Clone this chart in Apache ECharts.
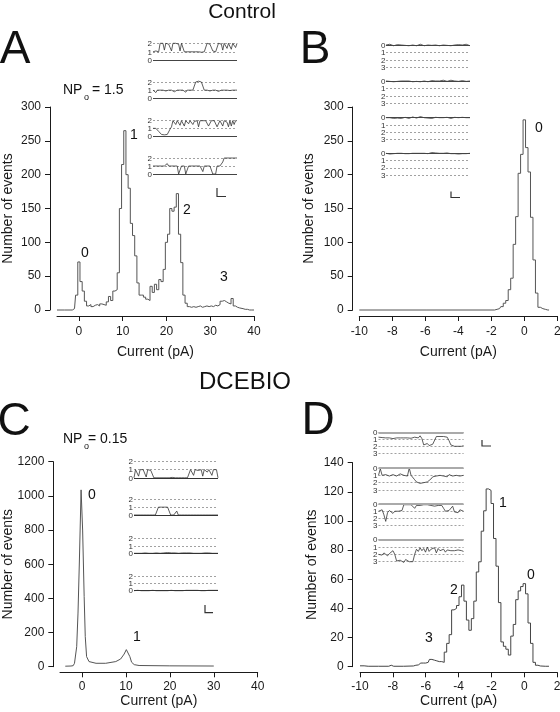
<!DOCTYPE html>
<html><head><meta charset="utf-8">
<script src="https://cdn.jsdelivr.net/npm/echarts@6/dist/echarts.min.js"></script>
<style>html,body{margin:0;padding:0;background:#fff}#c{width:560px;height:712px}</style>
</head><body><div id="c"></div>
<script>
// ---------- DATA ----------
// Panel A (Control) histogram: [current pA (bin centre), number of events]
const histA = [[-5,0],[-1.5,0],[-1,2],[-0.5,22],[0,71],[0.5,42],[1,28],[1.5,13],[2,6],[2.5,8],[3,5],[3.5,7],[4,8],[4.5,6],[5,9],[5.5,8],[6,7],[6.5,12],[7,20],[7.5,14],[8,28],[8.5,30],[9,55],[9.5,150],[10,215],[10.5,265],[11,200],[11.5,180],[12,128],[12.5,110],[13,80],[13.5,40],[14,22],[14.5,22],[15,19],[15.5,16],[16,14],[16.5,35],[17,26],[17.5,38],[18,30],[18.5,45],[19,42],[19.5,60],[20,100],[20.5,112],[21,150],[21.5,146],[22,152],[22.5,172],[23,112],[23.5,70],[24,22],[24.5,10],[25,5],[25.5,4],[26,5],[26.5,4],[27,5],[27.5,6],[28,4],[28.5,5],[29,6],[29.5,5],[30,6],[30.5,5],[31,7],[31.5,6],[32,8],[32.5,13],[33,14],[33.5,12],[34,10],[34.5,9],[35,17],[35.5,6],[36,4],[36.5,3],[37,2],[38,1],[39,0],[40,0]];
// Panel B (Control) histogram
const histB = [[-10,0],[-1.8,0],[-1.65,1],[-1.5,2],[-1.35,5],[-1.2,10],[-1.05,14],[-0.9,30],[-0.75,47],[-0.6,97],[-0.45,138],[-0.3,202],[-0.15,230],[0,281],[0.15,240],[0.3,204],[0.45,137],[0.6,74],[0.75,25],[0.9,4],[1.05,2],[1.2,1],[1.35,0],[1.5,0]];
// Panel C (DCEBIO) histogram
const histC = [[-3.8,3],[-2.5,4],[-2,6],[-1.7,20],[-1.2,117],[-0.9,314],[-0.6,607],[-0.2,1035],[0.15,800],[0.5,410],[0.75,176],[1.05,59],[1.6,30],[3.2,20],[5.4,20],[7.7,30],[8.8,45],[9.6,74],[10.1,100],[10.3,95],[10.9,59],[11.3,26],[11.9,12],[13,7],[20,5],[30,4]];
// Panel D (DCEBIO) histogram
const histD = [[-10,0.6],[-9.5,0.3],[-8.25,0.3],[-8.1,1],[-7.95,0.3],[-6.75,0.5],[-6.6,1],[-6.45,1.2],[-6.3,2.5],[-6.15,2.5],[-6,2.5],[-5.85,3],[-5.7,5],[-5.55,4.5],[-5.4,4],[-5.25,3.5],[-5.1,3.5],[-4.95,3],[-4.8,10],[-4.65,16],[-4.5,22],[-4.35,39],[-4.2,40],[-4.05,42],[-3.9,48],[-3.75,56],[-3.6,45],[-3.45,32],[-3.3,25],[-3.15,33],[-3,45],[-2.85,65],[-2.7,72],[-2.55,93],[-2.4,107],[-2.25,122],[-2.1,121],[-1.95,112],[-1.8,88],[-1.65,69],[-1.5,44],[-1.35,17],[-1.2,14],[-1.05,12],[-0.9,8],[-0.75,21],[-0.6,29],[-0.45,46],[-0.3,52],[-0.15,55],[0,57],[0.15,50],[0.3,30],[0.45,16],[0.6,3],[0.75,1],[0.9,0.5],[1.05,0.3],[1.5,0.3]];

// Tick labels
const ticksAC = [0,10,20,30,40];
const levelLabels = ['0','1','2','3'];
const peakLabelsA = ['0','1','2','3'];
const peakLabelsB = ['0'];
const peakLabelsC = ['0','1'];
const peakLabelsD = ['1','0','2','3'];

// Inset single-channel traces (open-channel level units)
const traceA1 = [1,1,1.1,1,1,2,1.9,2,1.2,2,2,1.9,2,1.1,2,2,2,2,1.9,1.1,2,2,1,1,1,1,1,1.1,1,1,1,1,1,1,0.95,1,1,1,2,2,1.9,2,1.1,1,1,1,2,2,1.9,1.2,2,2,1.4,2,1.9,1.3,2,2,1.5,2];
const traceA2 = [1,1,0.7,1,1,1,1,1,1,0.9,1,1,1,1,1,0.8,1,1,1,1,1,1,1,0.75,1,1,1,1,1,1,2,2,2.1,2,2,1.9,1,1,1,1,0.9,1,1,1,1,1,0.85,1,1,1,1,1,1,1,0.95,1,1,1,1,1];
const traceA3 = [1,1,1,1,0.6,0.5,0.2,0.2,0.15,0.2,0.2,0.2,0.9,1.2,2,2,1.5,2,2,1.4,2,1.9,1.3,2,2,1.6,2,2,1.5,1.9,2,2,1.2,2,2,2,1.8,2,2,1.3,1.3,2,2,2,2,1.2,1.4,2,2,1.3,2,2,1.8,1.2,2,1.3,2,1.5,2,2];
const traceA4 = [1,1,1,1.1,1,0.9,1,1,1,1,1.3,1,1,1,1,1,1,1,0,0,1,1,1,0,0,1,1,1,1,1,0.9,1,1,1,1,0.3,1,1,1,1,1,1,0,0,0,1,1,1,1,1.5,2,2,2,1.9,2,2,2,1.9,2,2];
const traceB1 = [0,0.1,-0.1,0,0.1,0,-0.05,0.1,0,-0.1,0.05,0,0.1,-0.05,0,0,0.1,0,-0.1,0.05,0.1,0,0,-0.1,0.05,0.1,0,0,0.1,-0.05,0,0.1,0.05,0,0.1,0.15,0,0.05,-0.05,0.1,0,0.05,-0.1,0,0.1];
const traceB2 = [0,-0.05,0.05,0,0.1,0,0.05,-0.05,0,0.1,0,0.05,0,-0.05,0.1,0,0.05,0,0.1,-0.05,0,0.05,0.1,0,-0.05,0.05,0,0.1,0,0.05,-0.1,0,0.05,0,-0.1,-0.15,0,-0.1,0.05,0,-0.05,0,0.05,0,0];
const traceB3 = [0,0.1,0,-0.1,0.1,0,0.05,-0.1,0.1,0,-0.05,0.05,0.1,0,-0.1,0,0.05,0,-0.15,-0.1,0,-0.1,0.05,0,0.1,0,-0.05,0.05,0,0.1,0,0.05,-0.05,0,0.1,0,-0.05,0.1,0,0.05,-0.05,0.1,0,0.05,0];
const traceB4 = [0,0.05,0.1,0,0.05,0.1,0,0.05,0,0.1,0.05,0,0.05,0.1,0,0.05,0,-0.05,0,0.05,0,-0.05,0.05,0,-0.1,0,-0.05,-0.1,0,-0.05,0,0.05,-0.05,0,0.05,0,0.05,0,0.1,0,0.05,0,0.05,0,0];
const traceC1 = [0,1,1,0.2,1,0.8,1,1,0.1,1,1,0.9,1,0,0,0,0,0,0,0,0,0,0,0,0,0.05,0,0,0,0,0,0,0,0,0,0,0,1,1,0.3,1,1,0.9,1,1,0.2,1,1,0.7,1,1,0.3,1,1,1,0];
const traceC2 = [0,0,0,0,0,0,0,0,0,0,0,0,0,0,0,0,1,1,1,0.85,1,0.9,1,1,0,0,0,0,0.5,0,0,0,0,0,0,0,0,0,0,0,0,0,0,0,0,0,0,0,0.1,0,0,0,0,0,0,0];
const traceC3 = [0,0.05,0,0.05,0,0,0.05,0,0,0.05,0,0,0.05,0,0,0,0.05,0,0.1,0,0.05,0,0.05,0.05,0,0.05,0.05,0,0.05,0,0.05,0,0,0.05,0,0.05,0,0,0.05,0,0.05,0,0,0.05,0,0];
const traceC4 = [0,0,0.05,0,0,0.05,0,0.05,0,0,0.05,0,0,0.05,0,0.05,0,0.05,0,0,0.05,0.05,0,0.05,0,0.05,0,0.05,0.05,0,0.05,0,0.05,0,0.05,0.05,0,0.05,0,0.05,0.05,0,0.05,0,0.05,0.05];
const traceD1 = [0.7,0.8,0.75,0.85,0.8,0.7,0.8,0.8,0.9,0.75,0.8,0.85,0.8,0.7,0.8,0.9,0.8,0.75,0.85,0.8,0.7,0.6,0.8,0.5,0.9,1.8,2,1.6,1.9,2.1,1.7,1.9,0.6,0.55,0.6,0.7,0.6,0.8,0.7,1.2,1.8,1.9,2,1.8,2,1.9,2,1.9];
const traceD2 = [1,0.1,1,1.1,0.9,1,1.1,1,0.9,1,1.1,1,0.8,1,1,0.9,1.1,0,1,1.2,1.6,1.9,2,2.1,1.9,2,2.2,1.9,2.1,1.5,1.2,1,1.1,0.9,1,0.8,1.1,1,1.2,0.9,1,1.1,1.3,1,0.9,1.1,1,1];
const traceD3 = [1,1.1,0.8,1.5,2.4,1.2,0.9,1,1.3,1,1.2,1,1.1,0.9,0.1,0.2,0.1,0.15,0.1,0.2,0.6,0.2,0.1,0.2,0.15,0.1,0.2,0.1,0.15,0.2,0.1,0.3,0.1,0.2,0.1,0.2,0.6,1,1.2,0.9,1.1,0.3,1.1,1,1.2,0.8,1,1];
const traceD4 = [2,1.9,2.1,1.8,2,2.2,1.9,2.1,1.5,2,2.9,3,2.8,2.9,3.1,2.7,2.9,3,2.8,3,2,1.3,1.6,1.1,1.5,1.2,1.7,1,1.6,1.3,1.5,1.1,1.8,1.2,1.5,1.6,1.3,1.7,1.4,1.6,1.5,1.7,1.5,1.6,1.4,1.6,1.5,1.6];

// ---------- LAYOUT / STYLE ----------
const FONT = '"Liberation Sans", Arial, Helvetica, sans-serif';
const AX = '#1a1a1a';
const grids = [], xAxes = [], yAxes = [], series = [], graphics = [];
const plain = v => String(v);

function txt(t, x, y, s, align, color) {
  return {type: 'text', silent: true, style: {text: t, x: x, y: y, fontSize: s, fill: color || '#111', fontFamily: FONT,
    textAlign: align || 'center', textVerticalAlign: 'middle'}};
}

function addHist(c, data) {
  const gi = grids.length;
  grids.push({left: c.left, top: c.top, width: c.width, height: c.height, containLabel: false, outerBoundsMode: 'none'});
  const xa = {gridIndex: gi, type: 'value', min: c.xmin, max: c.xmax, offset: c.xoff,
    name: 'Current (pA)', nameLocation: 'middle', nameGap: c.xNameGap, nameMoveOverlap: false,
    nameTextStyle: {fontSize: 14, color: AX, fontFamily: FONT},
    axisLine: {show: true, onZero: false, lineStyle: {color: AX, width: 1}},
    axisTick: {show: true, length: 5, lineStyle: {color: AX, width: 1}},
    axisLabel: {show: true, fontSize: 12, color: AX, margin: c.xLabMargin, fontFamily: FONT, formatter: plain,
      showMinLabel: true, showMaxLabel: true},
    splitLine: {show: false}};
  if (c.xticks) { xa.axisTick.customValues = c.xticks; xa.axisLabel.customValues = c.xticks; }
  else { xa.interval = c.xint; }
  xAxes.push(xa);
  yAxes.push({gridIndex: gi, type: 'value', min: 0, max: c.ymax, interval: c.yint, offset: c.yoff,
    name: 'Number of events', nameLocation: 'middle', nameGap: c.yNameGap, nameMoveOverlap: false,
    nameTextStyle: {fontSize: 14, color: AX, fontFamily: FONT},
    axisLine: {show: true, onZero: false, lineStyle: {color: AX, width: 1}},
    axisTick: {show: true, length: 5, lineStyle: {color: AX, width: 1}},
    axisLabel: {show: true, fontSize: 12, color: AX, margin: 9, fontFamily: FONT, formatter: plain,
      showMinLabel: true, showMaxLabel: true},
    splitLine: {show: false}});
  series.push({type: 'line', xAxisIndex: gi, yAxisIndex: gi, data: data, step: c.step, showSymbol: false,
    symbol: 'none', clip: false, lineStyle: {color: c.color, width: 1}, animation: false});
}

function addInset(p, rows) {
  rows.forEach((vals, r) => {
    const g = p.rows[r];
    const gi = grids.length;
    const h = g[1] - g[0];
    grids.push({left: p.left, top: g[0], width: p.width, height: h, containLabel: false, outerBoundsMode: 'none'});
    xAxes.push({gridIndex: gi, type: 'value', min: 0, max: vals.length - 1, show: false});
    yAxes.push({gridIndex: gi, type: 'value', min: 0, max: p.max, interval: 1, inverse: p.inverse,
      axisLine: {show: false, onZero: false}, axisTick: {show: false}, axisLabel: {show: false},
      splitLine: {show: true, showMinLine: true, showMaxLine: true, lineStyle: {type: [2, 2], color: '#8a8a8a', width: 0.8}}});
    series.push({type: 'line', xAxisIndex: gi, yAxisIndex: gi, data: vals.map((v, i) => [i, v]),
      showSymbol: false, symbol: 'none', clip: false, lineStyle: {color: '#333', width: 0.8}, animation: false,
      markLine: {silent: true, symbol: ['none', 'none'], label: {show: false}, animation: false,
        lineStyle: {type: 'solid', color: p.zeroColor, width: p.zeroWidth}, data: [{yAxis: 0}]}});
    // level labels beside the inset
    for (let k = 0; k <= p.max; k++) {
      const frac = p.inverse ? k / p.max : 1 - k / p.max;
      graphics.push(txt(levelLabels[k], p.left - p.labGap, g[0] + h * frac + 0.5, 8, 'right', '#333'));
    }
  });
}

addHist({left: 57, top: 107, width: 197, height: 203, xmin: -5, xmax: 40, xticks: ticksAC, xoff: 6, yoff: 7,
  ymax: 300, yint: 50, xNameGap: 29, yNameGap: 35, xLabMargin: 10, step: 'middle', color: '#555'}, histA);
addHist({left: 359.3, top: 107, width: 198, height: 203, xmin: -10, xmax: 2, xint: 2, xoff: 6, yoff: 6.6,
  ymax: 300, yint: 50, xNameGap: 29, yNameGap: 37, xLabMargin: 10, step: 'middle', color: '#555'}, histB);
addHist({left: 60, top: 461.7, width: 197.7, height: 205, xmin: -5, xmax: 40, xticks: ticksAC, xoff: 5.6, yoff: 6.7,
  ymax: 1200, yint: 200, xNameGap: 22, yNameGap: 38, xLabMargin: 8, step: false, color: '#555'}, histC);
addHist({left: 360, top: 462.7, width: 197.2, height: 204, xmin: -10, xmax: 2, xint: 2, xoff: 5.6, yoff: 7.3,
  ymax: 140, yint: 20, xNameGap: 22, yNameGap: 34, xLabMargin: 8, step: 'middle', color: '#444'}, histD);

addInset({left: 153, width: 84, max: 2, inverse: false, labGap: 1, zeroColor: '#444', zeroWidth: 1,
  rows: [[43.3, 60.3], [82, 98.3], [120.7, 136], [158, 174]]}, [traceA1, traceA2, traceA3, traceA4]);
addInset({left: 386, width: 84, max: 3, inverse: true, labGap: 0.5, zeroColor: '#444', zeroWidth: 1,
  rows: [[45, 67.3], [81, 103.7], [117.7, 139.7], [153.3, 175]]}, [traceB1, traceB2, traceB3, traceB4]);
addInset({left: 134, width: 84, max: 2, inverse: false, labGap: 1, zeroColor: '#333', zeroWidth: 1,
  rows: [[461.5, 477.8], [499.3, 515], [538.3, 553.3], [576, 590.7]]}, [traceC1, traceC2, traceC3, traceC4]);
addInset({left: 378.5, width: 85, max: 3, inverse: true, labGap: 1, zeroColor: '#aaa', zeroWidth: 1.8,
  rows: [[432.3, 453.3], [468, 490], [504, 525.7], [539.7, 561.7]]}, [traceD1, traceD2, traceD3, traceD4]);

// ---------- TEXT / DECORATION ----------
function scaleBar(x, y1, y2, x2) {
  return {type: 'polyline', silent: true, shape: {points: [[x, y1], [x, y2], [x2, y2]]},
    style: {stroke: '#333', lineWidth: 1.2, fill: null}};
}
const pkPos = {A: [[85, 253], [134, 135], [187, 210], [224, 277]], B: [[539, 128]], C: [[92, 495], [137, 637]],
  D: [[503, 503], [531, 575], [454, 590], [429, 638]]};
graphics.push(
  txt('Control', 242, 12, 21), txt('DCEBIO', 245, 382, 24),
  txt('A', 15, 50, 46), txt('B', 315, 50, 46), txt('C', 14, 422, 46), txt('D', 318, 421, 46),
  txt('NP', 63, 90, 14, 'left'), txt('o', 84, 98, 9, 'left'), txt('= 1.5', 92, 90, 14, 'left'),
  txt('NP', 63, 439, 14, 'left'), txt('o', 84, 447, 9, 'left'), txt('= 0.15', 88, 439, 14, 'left'),
  scaleBar(217, 188, 196.5, 226), scaleBar(451, 191.5, 197.5, 460),
  scaleBar(205, 605, 612.7, 213), scaleBar(482, 440, 446, 491)
);
peakLabelsA.forEach((l, i) => graphics.push(txt(l, pkPos.A[i][0], pkPos.A[i][1], 14)));
peakLabelsB.forEach((l, i) => graphics.push(txt(l, pkPos.B[i][0], pkPos.B[i][1], 14)));
peakLabelsC.forEach((l, i) => graphics.push(txt(l, pkPos.C[i][0], pkPos.C[i][1], 14)));
peakLabelsD.forEach((l, i) => graphics.push(txt(l, pkPos.D[i][0], pkPos.D[i][1], 14)));

const chart = echarts.init(document.getElementById('c'), null, {renderer: 'canvas'});
chart.setOption({
  animation: false, backgroundColor: '#fff',
  textStyle: {fontFamily: FONT},
  grid: grids, xAxis: xAxes, yAxis: yAxes, series: series, graphic: graphics
});
</script></body></html>
